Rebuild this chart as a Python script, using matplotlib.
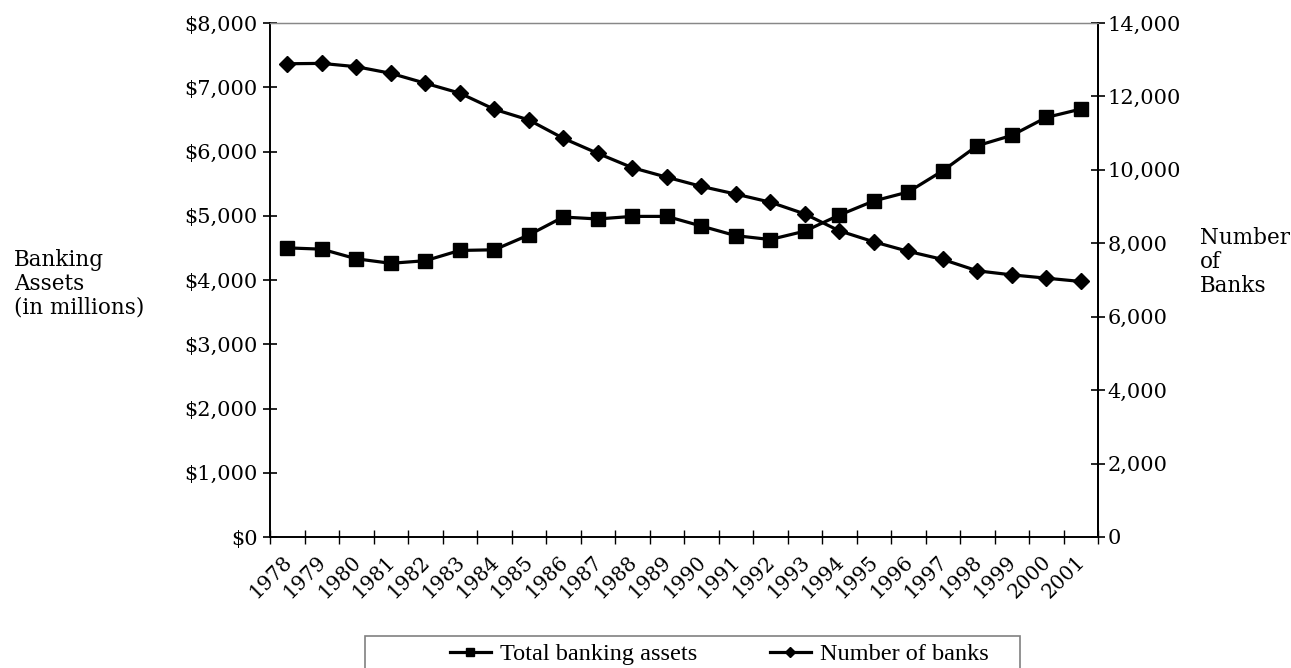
import matplotlib
matplotlib.use("Agg")
import matplotlib.pyplot as plt
from matplotlib.ticker import FuncFormatter, FixedLocator
from matplotlib.patches import Rectangle
import matplotlib.transforms as mtransforms

# ---------------- data ----------------
years = [str(y) for y in range(1978, 2002)]
total_assets = [4500, 4480, 4330, 4260, 4300, 4460, 4470, 4700, 4980, 4950,
                4990, 4990, 4840, 4690, 4630, 4760, 5010, 5230, 5370, 5700,
                6090, 6250, 6530, 6660]
number_of_banks = [12890, 12900, 12810, 12630, 12360, 12090, 11650, 11360,
                   10860, 10450, 10060, 9800, 9550, 9340, 9120, 8800, 8340,
                   8040, 7780, 7560, 7250, 7140, 7050, 6960]
left_ticks = [0, 1000, 2000, 3000, 4000, 5000, 6000, 7000, 8000]
right_ticks = [0, 2000, 4000, 6000, 8000, 10000, 12000, 14000]

SERIF = ['DejaVu Serif']
LEG = ['Liberation Serif', 'DejaVu Serif']
plt.rcParams['font.family'] = SERIF

FS = 15

W, H = 1291, 668
fig = plt.figure(figsize=(W / 100, H / 100), dpi=100)
ax = fig.add_axes([270 / W, 1 - 537 / H, (1098 - 270) / W, (537 - 23) / H])
ax2 = ax.twinx()

x = list(range(len(years)))
l1, = ax.plot(x, total_assets, color='black', lw=2.3, marker='s', ms=9.5,
              label='Total banking assets', clip_on=False)
l2, = ax2.plot(x, number_of_banks, color='black', lw=2.3, marker='D', ms=8,
               label='Number of banks', clip_on=False)

ax.set_xlim(-0.5, len(years) - 0.5)
ax.set_ylim(left_ticks[0], left_ticks[-1])
ax2.set_ylim(right_ticks[0], right_ticks[-1])

# spines
for a in (ax, ax2):
    a.spines['top'].set_color('#888888')
    a.spines['top'].set_linewidth(0.9)
    for s in ('left', 'right', 'bottom'):
        a.spines[s].set_linewidth(1.4)
        a.spines[s].set_color('black')
ax2.spines['left'].set_visible(False)
ax2.spines['bottom'].set_visible(False)

# y ticks
ax.yaxis.set_major_locator(FixedLocator(left_ticks))
ax.yaxis.set_major_formatter(FuncFormatter(lambda v, p: f"${int(v):,}"))
ax.tick_params(axis='y', direction='inout', length=10, width=1.2, pad=4,
               labelsize=FS, colors='black')
ax2.yaxis.set_major_locator(FixedLocator(right_ticks))
ax2.yaxis.set_major_formatter(FuncFormatter(lambda v, p: f"{int(v):,}"))
ax2.tick_params(axis='y', direction='inout', length=10, width=1.2, pad=2,
                labelsize=FS, colors='black')

# x ticks: labels at category centres, tick marks at boundaries
ax.set_xticks(x)
ax.set_xticklabels(years, rotation=45, ha='right', va='top',
                   rotation_mode='anchor', fontsize=14.5)
ax.tick_params(axis='x', which='major', length=0, pad=11)
ax.set_xticks([i - 0.5 for i in range(len(years) + 1)], minor=True)
ax.tick_params(axis='x', which='minor', direction='inout', length=10, width=1.0)
offset = mtransforms.ScaledTranslation(-5 / 100, 0, fig.dpi_scale_trans)
for lab in ax.get_xticklabels():
    lab.set_transform(lab.get_transform() + offset)

# axis titles
fig.text(14 / W, 1 - 284 / H, "Banking\nAssets\n(in millions)", ha='left',
         va='center', multialignment='left', fontsize=15.5, linespacing=1.1)
fig.text(1200 / W, 1 - 262 / H, "Number\nof\nBanks", ha='left',
         va='center', multialignment='left', fontsize=15.5, linespacing=1.1)

# legend
fig.patches.append(Rectangle((365 / W, -0.05), (1020 - 365) / W, 0.05 + (1 - 636 / H),
                             transform=fig.transFigure, fill=False,
                             edgecolor='#808080', lw=1.2))
fig.legend([l1, l2], [l1.get_label(), l2.get_label()], loc='center',
           bbox_to_anchor=(719 / W, 1 - 654 / H), ncol=2, frameon=False,
           prop={'family': LEG, 'size': 17.5}, handlelength=1.7,
           handletextpad=0.35, columnspacing=3.0, markerscale=0.65,
           borderpad=0, borderaxespad=0)

fig.savefig("out.png", dpi=100)
